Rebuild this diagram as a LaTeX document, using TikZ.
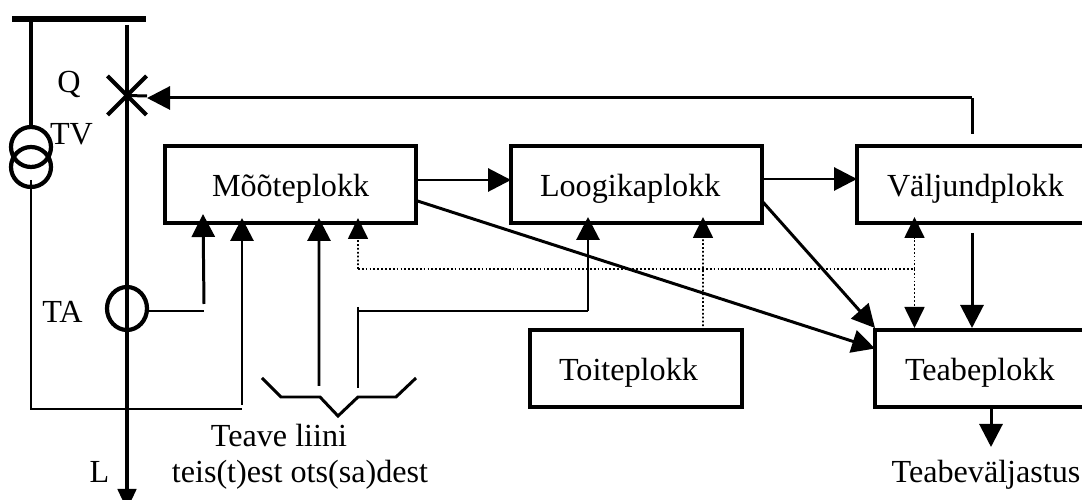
\documentclass[tikz,border=0pt]{standalone}
\usepackage{fontspec}
\setmainfont{Liberation Serif}
\usetikzlibrary{arrows.meta}
\usetikzlibrary{shapes.geometric}
\usetikzlibrary{shapes.misc}
\tikzset{plokk/.style={draw,line width=1.25pt,text width=#1cm,minimum height=.77cm,inner xsep=0pt,inner ysep=0pt,
   outer sep=0pt,anchor=north west,align=left,text height=9.1pt,text depth=2pt,font=\fontsize{9.15}{11}\selectfont},
 silt/.style={inner sep=0pt,anchor=base,font=\fontsize{9.15}{11}\selectfont},
 ots/.style={-{Triangle[length=.23cm,width=.23cm]}},
 vots/.style={-{Triangle[length=.21cm,width=.2cm]}},
 peen/.style={line width=.85pt},
 paks/.style={line width=1.2pt},
 punkt/.style={line width=.5pt,dash pattern=on .5pt off .6pt},
 trafo/.style={draw,line width=1.2pt,circle,minimum size=.4cm,inner sep=0pt,outer sep=0pt},
 }

\begin{document}
\begin{tikzpicture}[x=1cm,y=-1cm]
        \useasboundingbox (0, 0) rectangle (10.82, 5);
        \node [fill=black,minimum width=1.34cm,minimum height=.055cm,inner sep=0pt,outer sep=0pt] (siin) at (.79, .19) {};
        \node [trafo] (tv1) at (.31, 1.47) {};
        \node [trafo] (tv2) at (.31, 1.67) {};
        \node [trafo,ellipse,minimum width=.4cm,minimum height=.43cm] (ta) at (1.27, 3.085) {};
        \node [draw,cross out,line width=1.2pt,minimum size=.39cm,inner sep=0pt,outer sep=0pt] (q) at (1.27, .955) {};

        \node [silt] (qsilt) at (.69, .93) {Q};
        \node [silt] (tvsilt) at (.715, 1.45) {TV};
        \node [silt] (tasilt) at (.625, 3.23) {TA};
        \node [silt] (lsilt) at (.995, 4.83) {L};
        \node [silt] (liini) at (2.79, 4.47) {Teave liini};
        \node [silt] (otsad) at (3, 4.83) {teis(t)est ots(sa)dest};
        \node [silt] (valjastus) at (9.86, 4.83) {Teabeväljastus};

        % plokid
        \node [plokk=2.51] (moote) at (1.65, 1.46) {\hspace*{.47cm}Mõõteplokk};
        \node [plokk=2.51] (loogika) at (5.11, 1.46) {\hspace*{.29cm}Loogikaplokk};
        \node [plokk=2.4] (valjund) at (8.57, 1.46) {\hspace*{.3cm}Väljundplokk};
        \node [plokk=2.12] (toite) at (5.3, 3.3) {\hspace*{.29cm}Toiteplokk};
        \node [plokk=2.2] (teabe) at (8.75, 3.3) {\hspace*{.3cm}Teabeplokk};

        % liin
        \coordinate (liinyl) at (1.27, .25);
        \coordinate (liinall) at (1.27, 5.1);
        \coordinate (nurk) at (.31, 4.09);
        \draw [paks] (tv1.north) -- (tv1.north |- siin.south);
        \draw [line width=1.3pt,-{Triangle[length=.21cm,width=.18cm]}] (liinyl) -- (liinall);
        \draw [peen] (.31, 1.8) -- (nurk) -- (2.42, 4.09);

        % sisendid
        \coordinate (tanurk) at (2.04, 3.11);
        \coordinate (tvots) at (2.42, 4.05);
        \coordinate (teave1) at (3.19, 3.86);
        \coordinate (teave2) at (3.58, 3.88);
        \coordinate (teave3) at (3.58, 3.07);
        \coordinate (teave4) at (3.58, 3.11);
        \coordinate (teave5) at (5.88, 3.11);
        \draw [peen] (ta.east |- tanurk) -- (tanurk);
        \draw [peen,ots] (2.04, 3.04) -- ([xshift=.38cm,yshift=.09cm]moote.south west);
        \draw [peen,ots] (tvots) -- ([xshift=.77cm,yshift=.05cm]moote.south west);
        \draw [peen,ots] (teave1) -- ([xshift=1.54cm,yshift=.05cm]moote.south west);
        \draw [peen] (teave3) -- (teave2);
        \draw [peen] (teave4) -- (teave5);
        \draw [peen,ots] (teave5) -- ([xshift=.77cm,yshift=.06cm]loogika.south west);

        % sulg
        \coordinate (s1) at (2.62, 3.78);
        \coordinate (s2) at (2.81, 3.97);
        \coordinate (s3) at (3.2, 3.97);
        \coordinate (s4) at (3.38, 4.16);
        \coordinate (s5) at (3.58, 3.97);
        \coordinate (s6) at (3.96, 3.97);
        \coordinate (s7) at (4.16, 3.78);
        \draw [peen] (s1) -- (s2) -- (s3) -- (s4) -- (s5) -- (s6) -- (s7);

        % plokkide vahel
        \draw [peen,ots] ([yshift=.045cm]moote.east) -- ([yshift=.045cm]loogika.west);
        \draw [peen,ots] ([yshift=.055cm]loogika.east) -- ([yshift=.055cm]valjund.west);
        \draw [peen,ots] ([yshift=-.16cm]moote.east) -- ([yshift=.2cm]teabe.west);
        \draw [peen,ots] ([yshift=-.165cm]loogika.east) -- ([yshift=.02cm]teabe.north west);
        \draw [peen,ots] (9.72, 2.33) -- ([xshift=.97cm,yshift=.02cm]teabe.north west);
        \draw [peen,ots] (teabe.south -| 9.91, 0) -- (9.91, 4.47);

        % tagasiside
        \coordinate (valjyl) at (9.72, .98);
        \draw [peen] (9.72, 1.34) -- (valjyl);
        \draw [peen,ots] (valjyl) -- (1.47, .98);
        \draw [peen] (q.center) -- (1.47, .96);

        % toide
        \coordinate (toideyl) at (3.58, 2.69);
        \coordinate (toideots) at (9.145, 2.69);
        \draw [punkt] (toideyl) -- (toideots);
        \draw [punkt,vots] (toideyl) -- ([xshift=1.93cm,yshift=.05cm]moote.south west);
        \draw [punkt,vots] (toideots) -- ([xshift=.575cm,yshift=.06cm]valjund.south west);
        \draw [punkt,vots] (toideots) -- ([xshift=.395cm,yshift=.02cm]teabe.north west);
        \draw [punkt,vots] ([xshift=1.73cm]toite.north west) -- ([xshift=1.92cm,yshift=.06cm]loogika.south west);
\end{tikzpicture}
\end{document}
